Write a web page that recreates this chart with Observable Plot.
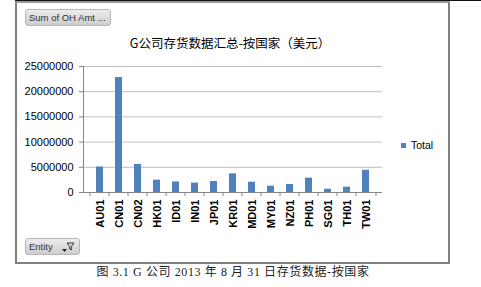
<!DOCTYPE html>
<html>
<head>
<meta charset="utf-8">
<script src="https://cdn.jsdelivr.net/npm/d3@7"></script>
<script src="https://cdn.jsdelivr.net/npm/@observablehq/plot@0.6"></script>
<style>
  html, body { margin: 0; padding: 0; background: #fff; }
  #wrap { position: relative; width: 481px; height: 287px; overflow: hidden; font-family: "Liberation Sans", Arial, sans-serif; }
  #chart { position: absolute; left: 0; top: 0; }
  .frame { position: absolute; left: 15px; top: 1px; width: 431px; height: 259px; border: 2px solid #808080; border-top-color: #9a9a9a; }
  .topline { position: absolute; left: 15px; top: 0; width: 466px; height: 1px; background: #111; }
  .title { position: absolute; left: 0; width: 460px; top: 35px; text-align: center; font-family: "Noto Sans CJK SC", sans-serif; font-size: 12.5px; color: #000; line-height: 16px; }
  .legend { position: absolute; left: 401px; top: 138px; font-size: 10.5px; color: #000; line-height: 14px; display: flex; align-items: center; }
  .legend .sw { width: 5px; height: 5px; margin-right: 5px; }
  .btn { position: absolute; border: 1px solid #b8b8b8; border-radius: 3px; background: linear-gradient(#ececec, #cdcdcd); color: #333; font-size: 9.5px; line-height: 15px; padding-left: 3px; box-sizing: border-box; }
  .caption { position: absolute; left: 0; width: 466px; top: 264px; text-align: center; font-family: "Liberation Serif", "Noto Sans CJK SC", serif; font-size: 12px; letter-spacing: 0.6px; color: #222; line-height: 16px; }
</style>
</head>
<body>
<div id="wrap">
  <div class="topline"></div>
  <div class="frame"></div>
  <div id="chart"></div>
  <div class="title" id="title"></div>
  <div class="legend" id="legend"></div>
  <div class="btn" id="btnTop" style="left:25px;top:9px;width:86px;height:17px;"></div>
  <div class="btn" id="btnBottom" style="left:25px;top:238px;width:55px;height:17px;"></div>
  <div class="caption" id="caption"></div>
</div>
<script>
const entities = ["AU01","CN01","CN02","HK01","ID01","IN01","JP01","KR01","MD01","MY01","NZ01","PH01","SG01","TH01","TW01"];
const amounts = [5050000, 22800000, 5560000, 2440000, 2100000, 1850000, 2180000, 3700000, 2040000, 1250000, 1590000, 2840000, 650000, 1050000, 4420000];
const yTicks = [0, 5000000, 10000000, 15000000, 20000000, 25000000];
const seriesName = "Total";
const titleText = "G公司存货数据汇总-按国家（美元）";
const captionText = "图 3.1 G 公司 2013 年 8 月 31 日存货数据-按国家";
const fieldButton = "Sum of OH Amt ...";
const axisButton = "Entity";

const barColor = "#4f81bd";
const data = entities.map((e, i) => ({entity: e, amount: amounts[i]}));

const W = 481, H = 262, mL = 83, mR = 99, mT = 66, mB = 70;
const step = (W - mL - mR) / entities.length;

const plot = Plot.plot({
  width: W, height: H,
  marginLeft: mL, marginRight: mR, marginTop: mT, marginBottom: mB,
  style: {fontFamily: "Liberation Sans, Arial, sans-serif", fontSize: "11px", color: "#000", background: "transparent", overflow: "visible"},
  x: {domain: entities, paddingInner: 0.62, paddingOuter: 0.31, label: null, axis: null},
  y: {domain: [0, 25000000], label: null, axis: null},
  marks: [
    Plot.gridY(yTicks, {stroke: "#bfbfbf", strokeOpacity: 1}),
    Plot.barY(data, {x: "entity", y: "amount", fill: barColor}),
    Plot.frame({anchor: "left", stroke: "#868686"}),
    Plot.ruleY([0], {stroke: "#868686"}),
    Plot.axisY(yTicks, {tickSize: 4, tickPadding: 6, tickFormat: d => String(d), stroke: "#868686", fill: "#000", fontSize: 11, label: null}),
    Plot.axisX({tickSize: 0, tickRotate: -90, tickPadding: 7, fill: "#000", fontSize: 11, fontWeight: "bold", label: null}),
    Plot.axisX({tickSize: 4, tickFormat: () => "", dx: -step / 2, stroke: "#868686", label: null}),
    Plot.axisX(["TW01"], {tickSize: 4, tickFormat: () => "", dx: step / 2, stroke: "#868686", label: null})
  ]
});
document.getElementById("chart").appendChild(plot);

document.getElementById("title").textContent = titleText;
document.getElementById("caption").textContent = captionText;
document.getElementById("legend").innerHTML = `<div class="sw" style="background:${barColor}"></div><span>${seriesName}</span>`;
document.getElementById("btnTop").textContent = fieldButton;
document.getElementById("btnBottom").innerHTML = `<span>${axisButton}</span>
<svg width="14" height="12" style="position:absolute;right:4px;top:2px" viewBox="0 0 14 12">
  <path d="M1 8 L6 8 L3.5 11 Z" fill="#222"/>
  <path d="M6 2 L13 2 L10.3 5.5 L10.3 9 L8.7 8 L8.7 5.5 Z" fill="none" stroke="#333" stroke-width="1"/>
</svg>`;
</script>
</body>
</html>
